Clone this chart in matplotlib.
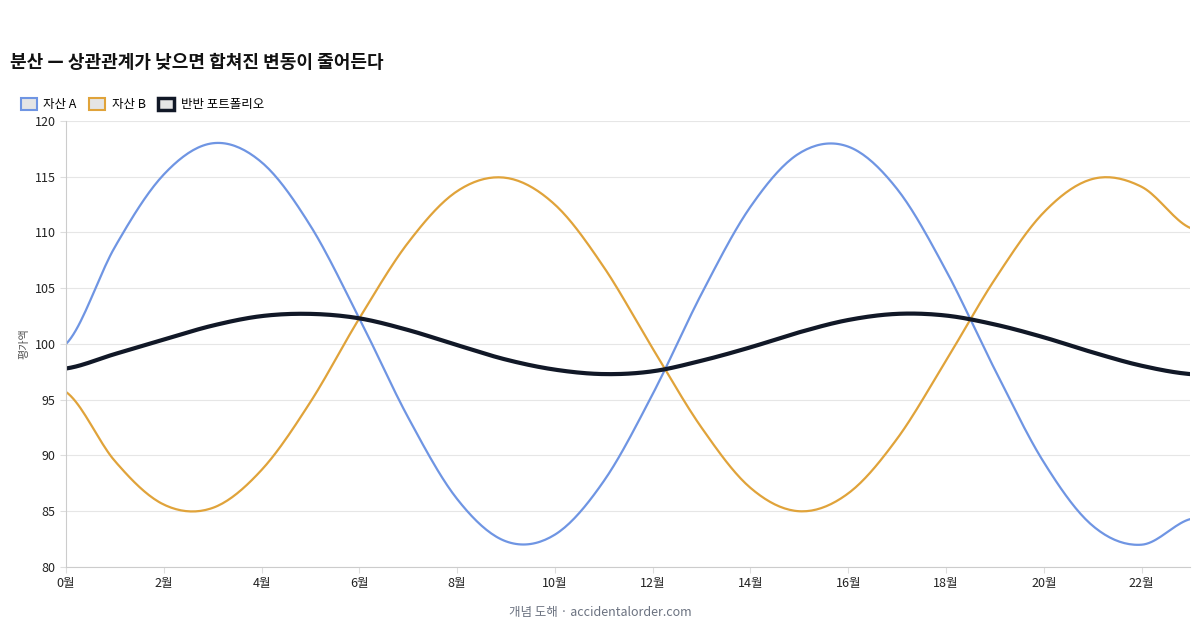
import matplotlib
matplotlib.use("Agg")
import matplotlib.pyplot as plt
from matplotlib.patches import Patch
import numpy as np

plt.rcParams['font.family'] = ['Noto Sans CJK KR', 'DejaVu Sans']

months = list(range(24))
asset_a = [100.0, 108.7, 115.2, 118.0, 116.3, 110.6, 102.3, 93.4, 86.1, 82.3, 82.9, 87.7,
           95.5, 104.5, 112.3, 117.1, 117.7, 113.9, 106.6, 97.7, 89.4, 83.7, 82.0, 84.3]
asset_b = [95.7, 89.5, 85.6, 85.3, 88.7, 94.8, 102.3, 109.1, 113.7, 114.9, 112.5, 106.9,
           99.6, 92.5, 87.1, 85.0, 86.6, 91.5, 98.5, 105.8, 111.8, 114.8, 114.1, 110.4]
portfolio = [97.8, 99.1, 100.4, 101.65, 102.5, 102.7, 102.3, 101.25, 99.9, 98.6, 97.7, 97.3,
             97.55, 98.5, 99.7, 101.05, 102.15, 102.7, 102.55, 101.75, 100.6, 99.25, 98.05, 97.3]
xticks = list(range(0, 24, 2))
xlabels = [f"{m}월" for m in xticks]
names = ["자산 A", "자산 B", "반반 포트폴리오"]
colors = ["#6f95e3", "#e0a33a", "#111827"]

def smooth(x, y, n=20):
    x = np.asarray(x, float); y = np.asarray(y, float)
    xs, ys = [], []
    for i in range(len(x) - 1):
        p0 = y[i - 1] if i > 0 else y[i]
        p3 = y[i + 2] if i + 2 < len(y) else y[i + 1]
        p1, p2 = y[i], y[i + 1]
        t = np.linspace(0, 1, n, endpoint=False)
        ys.append(0.5 * ((2 * p1) + (-p0 + p2) * t + (2 * p0 - 5 * p1 + 4 * p2 - p3) * t**2
                         + (-p0 + 3 * p1 - 3 * p2 + p3) * t**3))
        xs.append(x[i] + t * (x[i + 1] - x[i]))
    xs.append([x[-1]]); ys.append([y[-1]])
    return np.concatenate(xs), np.concatenate(ys)

fig = plt.figure(figsize=(12, 6.3), dpi=100)
ax = fig.add_axes([0.055, 0.1, 0.937, 0.708])
for ys, c, lw in zip([asset_a, asset_b, portfolio], colors, [1.6, 1.6, 3.0]):
    sx, sy = smooth(months, ys)
    ax.plot(sx, sy, color=c, lw=lw, solid_capstyle='round')

ax.set_xlim(0, 23)
ax.set_ylim(80, 120)
ax.set_yticks(range(80, 121, 5))
ax.set_xticks(xticks)
ax.set_xticklabels(xlabels)
ax.tick_params(labelsize=9, length=4, color='#dddddd', colors='#222222')
ax.grid(True, color='#e6e6e6', lw=0.8)
ax.grid(False, axis='x')
for s in ['top', 'right']:
    ax.spines[s].set_visible(False)
for s in ['left', 'bottom']:
    ax.spines[s].set_color('#cccccc')
ax.set_ylabel("평가액", fontsize=8, color='#555555')

fig.text(0.008, 1 - 62 / 630, "분산 — 상관관계가 낮으면 합쳐진 변동이 줄어든다", fontsize=13,
         fontweight='bold', color='#111111', va='center')
handles = [Patch(facecolor='#e5e5e5', edgecolor=c, lw=1.5 if i < 2 else 2.5) for i, c in enumerate(colors)]
fig.legend(handles, names, loc='upper left', bbox_to_anchor=(0.008, 0.862), ncol=3, frameon=False,
           fontsize=9, handlelength=1.3, handleheight=1.0, columnspacing=1.0, handletextpad=0.5)
fig.text(0.5, 0.022, "개념 도해 · accidentalorder.com", ha='center', fontsize=9, color='#6b7280')
fig.savefig("out.png", dpi=100)
